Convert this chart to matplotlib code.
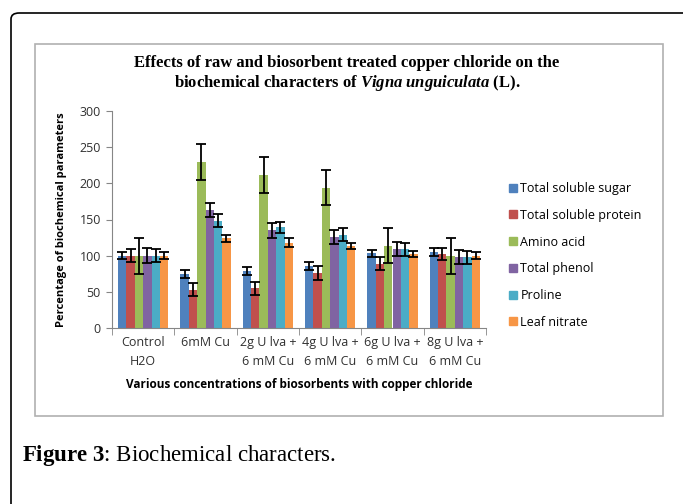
import matplotlib
matplotlib.use("Agg")
import matplotlib.pyplot as plt
import numpy as np
from matplotlib.patches import FancyBboxPatch, Rectangle

plt.rcParams["mathtext.fontset"] = "custom"
plt.rcParams["mathtext.rm"] = "Liberation Serif"
plt.rcParams["mathtext.it"] = "Liberation Serif:italic"
plt.rcParams["mathtext.bf"] = "Liberation Serif:bold"
plt.rcParams["mathtext.bfit"] = "Liberation Serif:bold:italic"

categories = ["Control\nH2O", "6mM Cu", "2g U lva +\n6 mM Cu", "4g U lva +\n6 mM Cu",
              "6g U lva +\n6 mM Cu", "8g U lva +\n6 mM Cu"]
series_names = ["Total soluble sugar", "Total soluble protein", "Amino acid",
                "Total phenol", "Proline", "Leaf nitrate"]
sugar = [100, 74, 79, 86, 103, 105]
sugar_err = [5, 5.5, 6, 5.5, 5.5, 6]
protein = [100, 53, 55, 76, 89, 102]
protein_err = [9, 9, 9, 10, 9, 8.5]
amino = [100, 230, 211, 194, 114, 100]
amino_err = [25, 25, 25, 24, 24, 25]
phenol = [100, 163, 135, 126, 109, 98]
phenol_err = [10, 10, 10, 10, 10, 10]
proline = [100, 148, 139, 129, 109, 98]
proline_err = [9, 9, 8, 9, 9, 9]
nitrate = [100, 124, 118, 113, 102, 100]
nitrate_err = [5, 4.5, 6, 4, 4, 4.5]

values = [sugar, protein, amino, phenol, proline, nitrate]
errors = [sugar_err, protein_err, amino_err, phenol_err, proline_err, nitrate_err]
colors = ["#4F81BD", "#C0504D", "#9BBB59", "#8064A2", "#4BACC6", "#F79646"]

W, H = 683, 504
fig = plt.figure(figsize=(W / 100, H / 100), dpi=100)

def fx(x): return x / W
def fy(y): return 1 - y / H

# outer frame (top and left lines with rounded corner)
outer = FancyBboxPatch((fx(11), fy(560)), fx(700), fy(13) - fy(560),
                       boxstyle="round,pad=0,rounding_size=0.012",
                       transform=fig.transFigure, fill=False, ec="black", lw=1.2,
                       clip_on=False)
fig.patches.append(outer)

# inner chart box
inner = Rectangle((fx(35), fy(416)), fx(663) - fx(35), fy(44) - fy(416),
                  transform=fig.transFigure, fill=False, ec="#B0B0B0", lw=1.2)
fig.patches.append(inner)

ax = fig.add_axes([fx(112), fy(328), fx(486) - fx(112), fy(111) - fy(328)])

n = len(categories)
x = np.arange(n)
bw = 0.134
for i, (vals, errs, c, name) in enumerate(zip(values, errors, colors, series_names)):
    pos = x + (i - 2.5) * bw
    ax.bar(pos, vals, width=bw, color=c, label=name, zorder=2)
    ax.errorbar(pos, vals, yerr=errs, fmt="none", ecolor="black", elinewidth=1.3,
                capsize=3.5, capthick=1.3, zorder=3)

ax.set_ylim(0, 300)
ax.set_yticks(np.arange(0, 301, 50))
ax.set_xlim(-0.5, n - 0.5)
ax.set_xticks(x)
ax.set_xticklabels(categories, linespacing=1.6)
ax.set_xticks(np.arange(-0.5, n, 1.0), minor=True)
ax.tick_params(axis="x", which="major", length=0, pad=6, labelsize=9, labelcolor="#303030")
ax.tick_params(axis="x", which="minor", length=5, color="#868686", direction="out")
ax.tick_params(axis="y", length=4, color="#868686", labelsize=9, labelcolor="#303030", pad=4)
for s in ["top", "right"]:
    ax.spines[s].set_visible(False)
for s in ["left", "bottom"]:
    ax.spines[s].set_color("#868686")
for lbl in ax.get_xticklabels() + ax.get_yticklabels():
    lbl.set_fontfamily("Open Sans")

ax.set_ylabel("Percentage of biochemical parameters", fontsize=8, fontweight="bold",
              fontfamily="Open Sans", labelpad=9)
ax.set_xlabel("Various concentrations of biosorbents with copper chloride", fontsize=8.5,
              fontweight="bold", fontfamily="Open Sans", labelpad=7)

fig.text(fx(347), fy(63), "Effects of raw and biosorbent treated copper chloride on the",
         ha="center", va="center", fontsize=12, fontweight="bold", family="Liberation Serif")
fig.text(fx(347), fy(83), r"biochemical characters of $\mathbfit{Vigna\ unguiculata}$ (L).",
         ha="center", va="center", fontsize=12, fontweight="bold", family="Liberation Serif")

handles = [Rectangle((0, 0), 1, 1, color=c) for c in colors]
leg = fig.legend(handles, series_names, loc="upper left",
                 bbox_to_anchor=(fx(504), fy(177)), frameon=False,
                 prop={"family": "Open Sans", "size": 9},
                 handlelength=0.6, handleheight=0.6, handletextpad=0.3,
                 labelspacing=1.1, borderaxespad=0)

fig.text(fx(22), fy(456), r"$\mathbf{Figure\ 3}$: Biochemical characters.",
         ha="left", va="center", fontsize=16.5, family="Liberation Serif")

fig.savefig("out.png", dpi=100)
